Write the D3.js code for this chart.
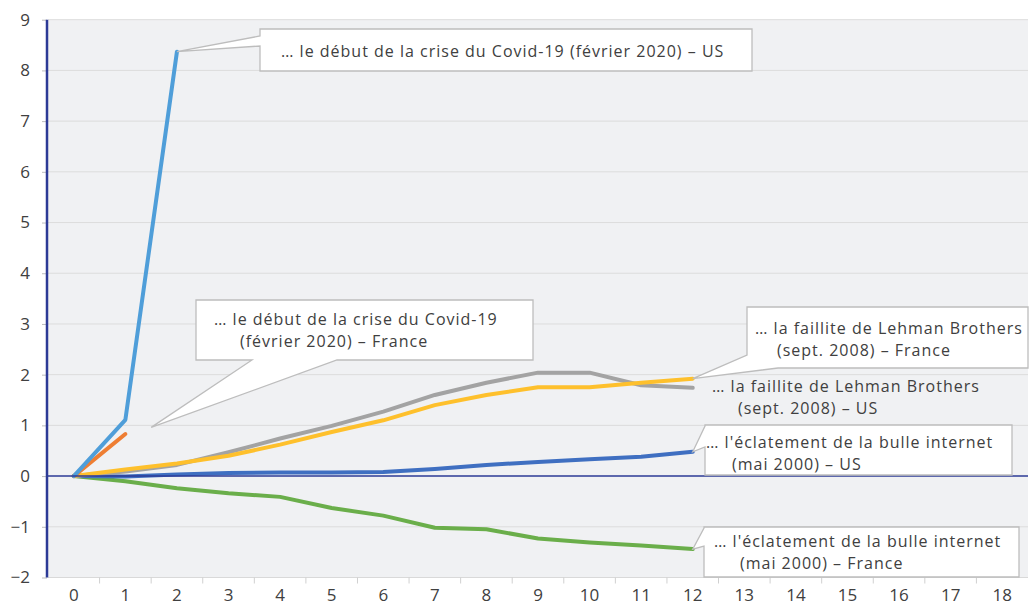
<!DOCTYPE html>
<html>
<head>
<meta charset="utf-8">
<script src="https://cdn.jsdelivr.net/npm/d3@7"></script>
<style>
  body { margin: 0; background: #fff; }
  svg { display: block; font-family: "Open Sans", sans-serif; }
</style>
</head>
<body>
<svg id="chart" width="1031" height="605"></svg>
<script>
// months after the shock (x categories)
const months = [0, 1, 2, 3, 4, 5, 6, 7, 8, 9, 10, 11, 12, 13, 14, 15, 16, 17, 18];
const yTicks = [-2, -1, 0, 1, 2, 3, 4, 5, 6, 7, 8, 9];

// series values
const covidUS   = [0, 1.11, 8.37];
const covidFR   = [0, 0.83];
const lehmanUS  = [0, 0.09, 0.22, 0.47, 0.74, 0.99, 1.27, 1.6, 1.84, 2.04, 2.04, 1.79, 1.74];
const lehmanFR  = [0, 0.13, 0.25, 0.4, 0.62, 0.87, 1.1, 1.4, 1.6, 1.75, 1.75, 1.84, 1.92];
const bubbleUS  = [0, -0.01, 0.03, 0.06, 0.07, 0.07, 0.08, 0.14, 0.22, 0.28, 0.33, 0.38, 0.48];
const bubbleFR  = [0, -0.1, -0.24, -0.34, -0.41, -0.63, -0.78, -1.02, -1.05, -1.23, -1.31, -1.37, -1.44];

const series = [
  { values: bubbleFR, color: "#6aae4a" },
  { values: bubbleUS, color: "#3f6fc1" },
  { values: lehmanUS, color: "#a3a3a3" },
  { values: lehmanFR, color: "#fec02c" },
  { values: covidFR,  color: "#ee7e33" },
  { values: covidUS,  color: "#4f9ed9" },
];

const svg = d3.select("#chart");
const pLeft = 48, pRight = 1028, pTop = 19.7, pBottom = 577.5;

const x = d3.scaleBand().domain(months).range([pLeft, pRight]).padding(0);
const xc = m => x(m) + x.bandwidth() / 2;
const y = d3.scaleLinear().domain([-2, 9]).range([pBottom, pTop]);

// plot background
svg.append("rect").attr("x", pLeft).attr("y", pTop)
  .attr("width", pRight - pLeft).attr("height", pBottom - pTop)
  .attr("fill", "#f0f1f3");

// gridlines
svg.append("g").selectAll("line").data(yTicks.filter(t => t !== 0 && t !== -2))
  .enter().append("line")
    .attr("x1", pLeft).attr("x2", pRight)
    .attr("y1", d => y(d)).attr("y2", d => y(d))
    .attr("stroke", "#dcdcdc").attr("stroke-width", 1);

// bottom axis line + band ticks
svg.append("line").attr("x1", pLeft).attr("x2", pRight)
  .attr("y1", pBottom).attr("y2", pBottom)
  .attr("stroke", "#d9d9d9").attr("stroke-width", 1.2);
const xAxis = d3.axisBottom(x).tickSize(0).tickPadding(11);
const gx = svg.append("g").attr("transform", `translate(0,${pBottom})`).call(xAxis);
gx.select(".domain").remove();
gx.selectAll("text").attr("font-size", 17).attr("fill", "#404040")
  .attr("font-family", "Open Sans, sans-serif");
svg.append("g").selectAll("line").data(months.slice(1))
  .enter().append("line")
    .attr("x1", d => x(d)).attr("x2", d => x(d))
    .attr("y1", pBottom).attr("y2", pBottom + 6)
    .attr("stroke", "#d0d0d0").attr("stroke-width", 1);

// y axis
const yAxis = d3.axisLeft(y).tickValues(yTicks).tickSize(5).tickPadding(12).tickFormat(d3.format("d"));
const gy = svg.append("g").attr("transform", `translate(${pLeft - 1},0)`).call(yAxis);
gy.select(".domain").remove();
gy.selectAll(".tick line").attr("stroke", "#bdbdbd");
gy.selectAll("text").attr("font-size", 17).attr("fill", "#404040")
  .attr("font-family", "Open Sans, sans-serif");

// data lines
const line = d3.line().x((d, i) => xc(months[i])).y(d => y(d));
svg.append("g").selectAll("path").data(series)
  .enter().append("path")
    .attr("d", d => line(d.values))
    .attr("fill", "none")
    .attr("stroke", d => d.color)
    .attr("stroke-width", 4)
    .attr("stroke-linejoin", "round")
    .attr("stroke-linecap", "round");

// axis lines on top (navy)
svg.append("line").attr("x1", pLeft).attr("x2", pRight)
  .attr("y1", y(0)).attr("y2", y(0))
  .attr("stroke", "#2c3a96").attr("stroke-width", 1.5);
svg.append("line").attr("x1", pLeft - 1).attr("x2", pLeft - 1)
  .attr("y1", pTop).attr("y2", pBottom)
  .attr("stroke", "#2c3a96").attr("stroke-width", 2.5);

// callouts: box + wedge pointing to a data point
function end(arr) { return [xc(months[arr.length - 1]), y(arr[arr.length - 1])]; }

function calloutPath(b, w, p) {
  const x0 = b.x, y0 = b.y, x1 = b.x + b.w, y1 = b.y + b.h;
  if (w.side === "left") {
    return `M${x0},${y0}H${x1}V${y1}H${x0}V${w.b}L${p[0]},${p[1]}L${x0},${w.a}Z`;
  }
  if (w.side === "bottom") {
    return `M${x0},${y0}H${x1}V${y1}H${w.b}L${p[0]},${p[1]}L${w.a},${y1}H${x0}Z`;
  }
  // corner: joins the left edge at w.a (y) and the bottom edge at w.b (x)
  return `M${x0},${y0}H${x1}V${y1}H${w.b}L${p[0]},${p[1]}L${x0},${w.a}Z`;
}

const callouts = [
  { box: { x: 260, y: 29, w: 492, h: 42 }, wedge: { side: "left", a: 36, b: 46 },
    point: end(covidUS),
    lines: [{ t: "… le début de la crise du Covid-19 (février 2020) – US", x: 281, y: 57 }] },
  { box: { x: 196, y: 300, w: 337, h: 60 }, wedge: { side: "bottom", a: 252, b: 337 },
    point: [xc(1) + x.bandwidth() / 2, y(0.96)],
    lines: [{ t: "… le début de la crise du Covid-19", x: 214, y: 325 },
            { t: "(février 2020) – France", x: 240, y: 347 }] },
  { box: { x: 747, y: 307, w: 281, h: 61 }, wedge: { side: "corner", a: 355, b: 778 },
    point: end(lehmanFR),
    lines: [{ t: "… la faillite de Lehman Brothers", x: 755, y: 334 },
            { t: "(sept. 2008) – France", x: 777, y: 356 }] },
  { box: null, point: null,
    lines: [{ t: "… la faillite de Lehman Brothers", x: 712, y: 392 },
            { t: "(sept. 2008) – US", x: 738, y: 414 }] },
  { box: { x: 705, y: 425, w: 307, h: 50 }, wedge: { side: "left", a: 426, b: 447 },
    point: end(bubbleUS),
    lines: [{ t: "… l'éclatement de la bulle internet", x: 706, y: 448 },
            { t: "(mai 2000) – US", x: 732, y: 470 }] },
  { box: { x: 704, y: 527, w: 315, h: 50 }, wedge: { side: "left", a: 528, b: 546 },
    point: end(bubbleFR),
    lines: [{ t: "… l'éclatement de la bulle internet", x: 714, y: 547 },
            { t: "(mai 2000) – France", x: 740, y: 569 }] },
];

const ga = svg.append("g");
for (const c of callouts) {
  if (c.box) {
    ga.append("path").attr("d", calloutPath(c.box, c.wedge, c.point))
      .attr("fill", "#fff").attr("stroke", "#bdbdbd").attr("stroke-width", 1.3);
  }
  for (const l of c.lines) {
    ga.append("text").attr("x", l.x).attr("y", l.y)
      .attr("font-size", 16).attr("letter-spacing", 1)
      .attr("fill", "#404040").text(l.t);
  }
}
</script>
</body>
</html>
